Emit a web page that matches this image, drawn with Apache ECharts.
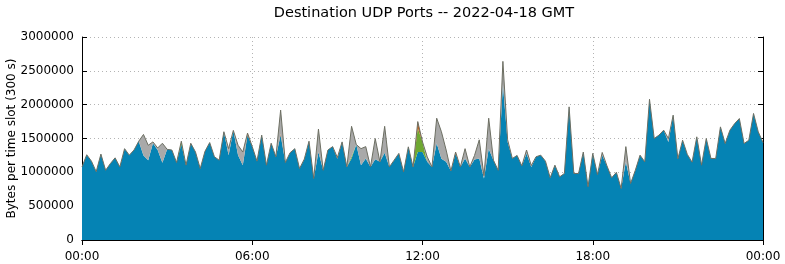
<!DOCTYPE html>
<html><head><meta charset="utf-8">
<script src="https://cdn.jsdelivr.net/npm/echarts@6/dist/echarts.min.js"></script>
<style>html,body{margin:0;padding:0;background:#fff}#c{width:785px;height:264px}</style>
</head><body><div id="c"></div>
<script>
// 10-minute slots from 00:00 to 24:00 (145 samples), values in bytes per slot
const slotMinutes = 10;
const blue = [
1080000,1260000,1165000,1010000,1270000,1030000,1130000,1214000,1080000,1350000,
1254000,1330000,1460000,1250000,1180000,1430000,1330000,1140000,1340000,1330000,
1145000,1420000,1106000,1430000,1300000,1056000,1310000,1440000,1230000,1180000,
1600000,1254000,1620000,1254000,1106000,1550000,1380000,1165000,1550000,1106000,
1430000,1230000,1550000,1145000,1290000,1350000,1056000,1195000,1460000,910000,
1300000,1030000,1330000,1380000,1200000,1450000,1080000,1205000,1410000,1106000,
1205000,1080000,1195000,1155000,1290000,1080000,1180000,1280000,1007000,1377000,
1080000,1300000,1300000,1155000,1080000,1430000,1200000,1155000,1020000,1280000,
1080000,1205000,1080000,1190000,1205000,910000,1350000,1180000,1030000,2300000,
1450000,1205000,1250000,1096000,1280000,1080000,1230000,1254000,1165000,920000,
1106000,933000,983000,1968000,983000,983000,1300000,786000,1280000,968000,
1254000,1096000,919000,1000000,761000,1155000,835000,1030000,1254000,1155000,
2080000,1500000,1550000,1623000,1450000,1845000,1200000,1475000,1265000,1150000,
1525000,1106000,1500000,1205000,1205000,1672000,1426000,1623000,1720000,1795000,
1426000,1475000,1870000,1598000,1441000
];
const green = [
0,0,0,0,0,0,0,0,0,0, 0,0,0,0,0,0,0,0,0,0,
0,40000,0,0,0,0,0,0,0,0, 0,0,0,0,0,0,0,0,0,0,
0,0,0,0,0,0,0,0,0,0, 0,0,0,0,0,0,0,30000,0,0,
0,0,0,0,0,0,0,0,0,0, 0,350000,150000,0,0,0,0,0,0,0,
0,0,0,0,0,0,0,0,0,0, 0,0,0,0,0,0,0,0,0,0,
0,0,0,0,0,0,0,0,0,0, 0,0,0,0,0,0,0,0,0,0,
0,0,0,0,0,0,0,0,0,0, 0,0,0,0,0,0,0,0,0,0,
0,0,0,0,0
];
const orange = [
0,0,0,0,0,0,0,0,0,0, 0,0,0,0,0,0,0,0,0,0,
0,0,0,0,0,0,0,0,0,0, 0,0,0,0,0,30000,0,0,0,0,
0,0,20000,0,0,0,0,0,0,0, 0,0,0,0,20000,0,0,0,0,0,
0,0,0,0,0,0,0,0,0,0, 0,100000,0,0,0,0,0,0,0,20000,
0,0,0,0,0,0,0,0,0,0, 0,0,0,0,0,0,0,0,0,0,
0,0,0,0,0,0,0,0,0,0, 0,0,0,0,0,0,0,0,0,0,
0,0,0,0,0,0,0,0,0,0, 0,0,0,0,0,0,0,0,0,0,
0,0,0,0,0
];
const gray = [
0,0,0,0,0,0,0,0,0,0, 0,0,0,310000,220000,20000,30000,290000,0,0,
0,0,0,0,0,0,0,0,0,0, 0,96000,0,146000,194000,0,0,0,0,0,
0,0,350000,0,0,0,0,0,0,0, 340000,0,0,0,0,0,0,445000,0,244000,
175000,0,305000,0,390000,0,0,0,0,0, 0,0,0,75000,0,370000,400000,175000,0,0,
0,145000,0,60000,275000,40000,450000,0,0,340000, 30000,0,0,0,50000,20000,0,0,0,0,
0,0,0,0,0,0,0,0,0,0, 40000,0,0,0,0,225000,0,0,0,0,
0,0,0,0,50000,0,0,0,0,0, 0,0,0,0,0,0,0,0,0,0,
0,0,0,0,0
];
const yTicks = ['0','500000','1000000','1500000','2000000','2500000','3000000'];
const xTickLabels = ['00:00','06:00','12:00','18:00','00:00'];
const slotsPerTick = 36;

const FONT = 'DejaVu Sans';
const slots = blue.map((_, i) => String(i));

const chart = echarts.init(document.getElementById('c'), null, {renderer:'canvas'});
const gridLine = {show:true, interval:slotsPerTick-1, lineStyle:{color:'#b4b4b4', type:[1,3], width:1}};
const axisLine = {show:true, lineStyle:{color:'#000', width:1}};
const xTick = {show:true, inside:true, length:5, interval:slotsPerTick-1, lineStyle:{color:'#000'}};
const yTick = {show:true, inside:true, length:5, lineStyle:{color:'#000'}};
function areaSeries(name, data, color, line){
  return {
    name, type:'line', stack:'total', data, symbol:'none', smooth:false,
    areaStyle:{color, opacity:1}, lineStyle:line, itemStyle:{color}, z:2, animation:false,
    emphasis:{disabled:true}
  };
}
chart.setOption({
  animation:false,
  title:{text:'Destination UDP Ports -- 2022-04-18 GMT', left:419, textAlign:'center', top:1,
    textStyle:{fontFamily:FONT, fontSize:14.5, fontWeight:'normal', color:'#000'}},
  grid:{left:82, right:22, top:37, bottom:24, containLabel:false, outerBoundsMode:'none'},
  xAxis:[
    {type:'category', data:slots, boundaryGap:false, position:'bottom',
      axisLine, axisTick:xTick,
      axisLabel:{fontFamily:FONT, fontSize:12, color:'#000', margin:11, interval:slotsPerTick-1,
        formatter:(v, i)=>xTickLabels[Math.round(i/slotsPerTick)]},
      splitLine:gridLine},
    {type:'category', data:slots, boundaryGap:false, position:'top',
      axisLine, axisTick:xTick, axisLabel:{show:false}, splitLine:{show:false}}
  ],
  yAxis:[
    {type:'value', min:0, max:3000000, interval:500000, position:'left',
      axisLine, axisTick:yTick,
      axisLabel:{fontFamily:FONT, fontSize:12, color:'#000', margin:8,
        formatter:(v)=>yTicks[Math.round(v/500000)]},
      name:'Bytes per time slot (300 s)', nameLocation:'middle', nameGap:64, nameRotate:90,
      nameMoveOverlap:false,
      nameTextStyle:{fontFamily:FONT, fontSize:12, color:'#000'},
      splitLine:{show:true, lineStyle:{color:'#b4b4b4', type:[1,3], width:1}}},
    {type:'value', min:0, max:3000000, interval:500000, position:'right',
      axisLine, axisTick:yTick, axisLabel:{show:false}, splitLine:{show:false}}
  ],
  series:[
    areaSeries('blue', blue, '#0583b4', {width:0}),
    areaSeries('green', green, '#6fa832', {width:0}),
    areaSeries('orange', orange, '#c8641e', {width:0}),
    areaSeries('other', gray, '#a9a9a9', {width:1, color:'#6c6e62'})
  ]
});
</script></body></html>
